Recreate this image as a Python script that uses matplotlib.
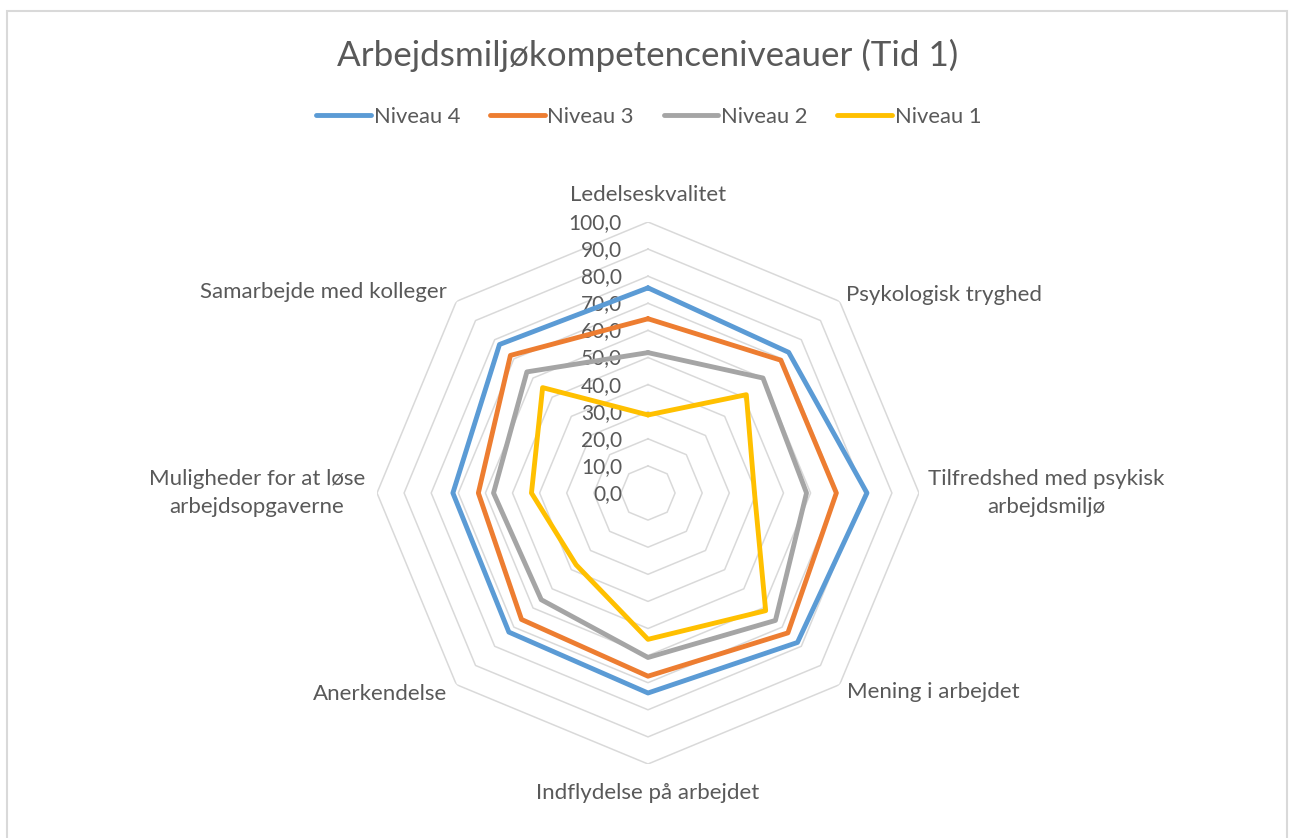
import numpy as np
import matplotlib
matplotlib.use("Agg")
import matplotlib.pyplot as plt
from matplotlib.transforms import offset_copy
from matplotlib.patches import Rectangle
from matplotlib.lines import Line2D

plt.rcParams['font.family'] = ['Lato', 'DejaVu Sans']

title = "Arbejdsmiljøkompetenceniveauer (Tid 1)"
categories = ["Ledelseskvalitet", "Psykologisk tryghed",
              "Tilfredshed med psykisk\narbejdsmiljø", "Mening i arbejdet",
              "Indflydelse på arbejdet", "Anerkendelse",
              "Muligheder for at løse\narbejdsopgaverne", "Samarbejde med kolleger"]
series_names = ["Niveau 4", "Niveau 3", "Niveau 2", "Niveau 1"]
niveau4 = [75.7, 73.4, 80.8, 78.0, 73.8, 72.6, 72.0, 77.5]
niveau3 = [64.3, 69.3, 69.5, 73.0, 67.6, 66.0, 62.6, 71.8]
niveau2 = [51.8, 60.0, 58.5, 66.5, 60.7, 55.7, 57.0, 63.2]
niveau1 = [28.8, 51.3, 39.3, 61.4, 54.0, 37.5, 43.0, 55.0]
ticks = [0, 10, 20, 30, 40, 50, 60, 70, 80, 90, 100]

colors = ["#5B9BD5", "#ED7D31", "#A5A5A5", "#FFC000"]
text_color = "#595959"
grid_color = "#D9D9D9"

W, H = 1290, 838
fig = plt.figure(figsize=(W / 100, H / 100), dpi=100)
fig.patch.set_facecolor("white")

# chart border
fig.patches.append(Rectangle((7 / W, -0.02), (1287 - 7) / W, (H - 11) / H + 0.02,
                             transform=fig.transFigure, fill=False,
                             edgecolor=grid_color, lw=1.5))

cx, cy, R = 648, 493, 271
ax = fig.add_axes([(cx - R) / W, (H - cy - R) / H, 2 * R / W, 2 * R / H],
                  projection='polar')
ax.set_theta_zero_location('N')
ax.set_theta_direction(-1)
ax.set_ylim(0, 100)
ax.set_xticks([])
ax.set_yticks([])
ax.grid(False)
ax.spines['polar'].set_visible(False)
ax.patch.set_visible(False)

n = len(categories)
theta = np.linspace(0, 2 * np.pi, n, endpoint=False)
theta_c = np.append(theta, theta[0])

# octagonal grid
for t in ticks[1:]:
    ax.plot(theta_c, [t] * (n + 1), color=grid_color, lw=1.1, zorder=1)

# tick labels
tr = offset_copy(ax.transData, fig=fig, x=-26, y=-1, units='dots')
for t in ticks:
    ax.text(0, t, f"{t:.1f}".replace('.', ','), transform=tr, ha='right',
            va='center', fontsize=15, color=text_color, zorder=3)

# series
for name, vals, c in zip(series_names, [niveau4, niveau3, niveau2, niveau1], colors):
    v = list(vals) + [vals[0]]
    ax.plot(theta_c, v, color=c, lw=3.5, solid_joinstyle='round',
            solid_capstyle='round', label=name, zorder=4)

# category labels
label_r = [110, 103.5, 103.3, 104, 110.7, 104.8, 104.4, 104.8]
label_ha = ['center', 'left', 'left', 'left', 'center', 'right', 'right', 'right']
for th, lab, r, ha in zip(theta, categories, label_r, label_ha):
    ax.text(th, r, lab, ha=ha, va='center', multialignment='center',
            fontsize=16, color=text_color, linespacing=1.45)

fig.text(0.502, 1 - 55 / H, title, ha='center', va='center', fontsize=25.2,
         color=text_color)

handles = [Line2D([], [], color=c, lw=3.5, solid_capstyle='round') for c in colors]
fig.legend(handles, series_names, loc='center', bbox_to_anchor=(0.503, 1 - 117 / H),
           ncol=4, frameon=False, fontsize=15.8, handlelength=2.5,
           handletextpad=0.12, columnspacing=1.35, labelcolor=text_color)

fig.savefig("out.png", dpi=100, facecolor="white")
